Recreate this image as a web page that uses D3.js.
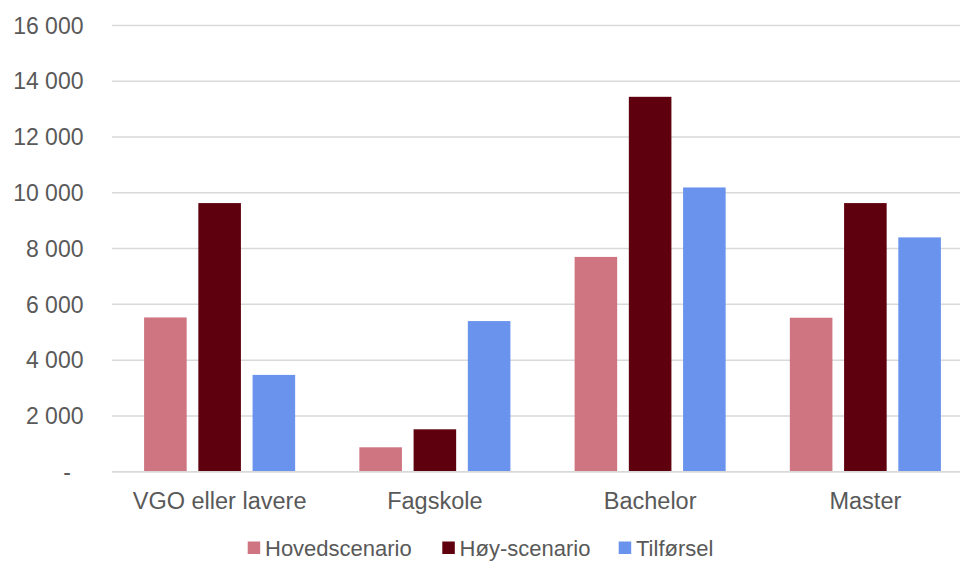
<!DOCTYPE html>
<html><head><meta charset="utf-8">
<script src="https://cdn.jsdelivr.net/npm/d3@7"></script>
<style>
html,body{margin:0;padding:0;background:#fff;}
svg{display:block;font-family:"Liberation Sans",Arial,sans-serif;}
</style></head>
<body>
<svg id="c" width="960" height="562"></svg>
<script>
const categories = ["VGO eller lavere", "Fagskole", "Bachelor", "Master"];
const seriesNames = ["Hovedscenario", "Høy-scenario", "Tilførsel"];
const hovedscenario = [5530, 875, 7700, 5520];
const hoyScenario = [9630, 1520, 13440, 9630];
const tilforsel = [3470, 5400, 10190, 8400];
const yTicks = [0, 2000, 4000, 6000, 8000, 10000, 12000, 14000, 16000];
const colors = ["#CE7581", "#5F000E", "#6A93EE"];

(function () {
const seriesValues = [hovedscenario, hoyScenario, tilforsel];
const svg = d3.select("#c");
const mLeft = 112, mRight = 973, mTop = 25.4, mBottom = 471.7;

const x0 = d3.scaleBand().domain(categories).range([mLeft, mRight]).paddingInner(0).paddingOuter(0);
const groupPad = 32.1;
const x1 = d3.scaleBand().domain(seriesNames)
  .range([groupPad, x0.bandwidth() - groupPad]).paddingInner(0.215).paddingOuter(0);
const y = d3.scaleLinear().domain([0, 16000]).range([mBottom, mTop]);

svg.append("g").selectAll("line").data(yTicks).join("line")
  .attr("x1", mLeft).attr("x2", 960)
  .attr("y1", d => y(d)).attr("y2", d => y(d))
  .attr("stroke", "#D9D9D9").attr("stroke-width", 1.5);

const fmt = d => d === 0 ? "-" : d3.format(",")(d).replace(/,/g, " ");
svg.append("g").selectAll("text").data(yTicks).join("text")
  .attr("x", d => d === 0 ? 71 : 83.5)
  .attr("y", d => y(d))
  .attr("dy", "0.36em")
  .attr("text-anchor", "end")
  .attr("font-size", 23)
  .attr("fill", "#595959")
  .text(fmt);

const groups = svg.append("g").selectAll("g").data(categories).join("g")
  .attr("transform", d => `translate(${x0(d)},0)`);
groups.selectAll("rect")
  .data((c, i) => seriesNames.map((s, j) => ({s, j, v: seriesValues[j][i]})))
  .join("rect")
  .attr("x", d => x1(d.s))
  .attr("width", x1.bandwidth())
  .attr("y", d => y(d.v))
  .attr("height", d => y(0) - y(d.v))
  .attr("fill", d => colors[d.j]);

svg.append("line").attr("x1", mLeft).attr("x2", 960)
  .attr("y1", y(0)).attr("y2", y(0))
  .attr("stroke", "#D9D9D9").attr("stroke-width", 1.5);

svg.append("g").selectAll("text").data(categories).join("text")
  .attr("x", d => x0(d) + x0.bandwidth() / 2)
  .attr("y", 508.5)
  .attr("text-anchor", "middle")
  .attr("font-size", 23.5)
  .attr("fill", "#595959")
  .text(d => d);

const legendX = [247.7, 442.3, 618.7];
const lg = svg.append("g").selectAll("g").data(seriesNames).join("g")
  .attr("transform", (d, i) => `translate(${legendX[i]},541.5)`);
lg.append("rect").attr("width", 12.5).attr("height", 12.5).attr("fill", (d, i) => colors[i]);
lg.append("text").attr("x", 17.3).attr("y", 14.5)
  .attr("font-size", 22).attr("fill", "#595959").text(d => d);
})();
</script>
</body></html>
